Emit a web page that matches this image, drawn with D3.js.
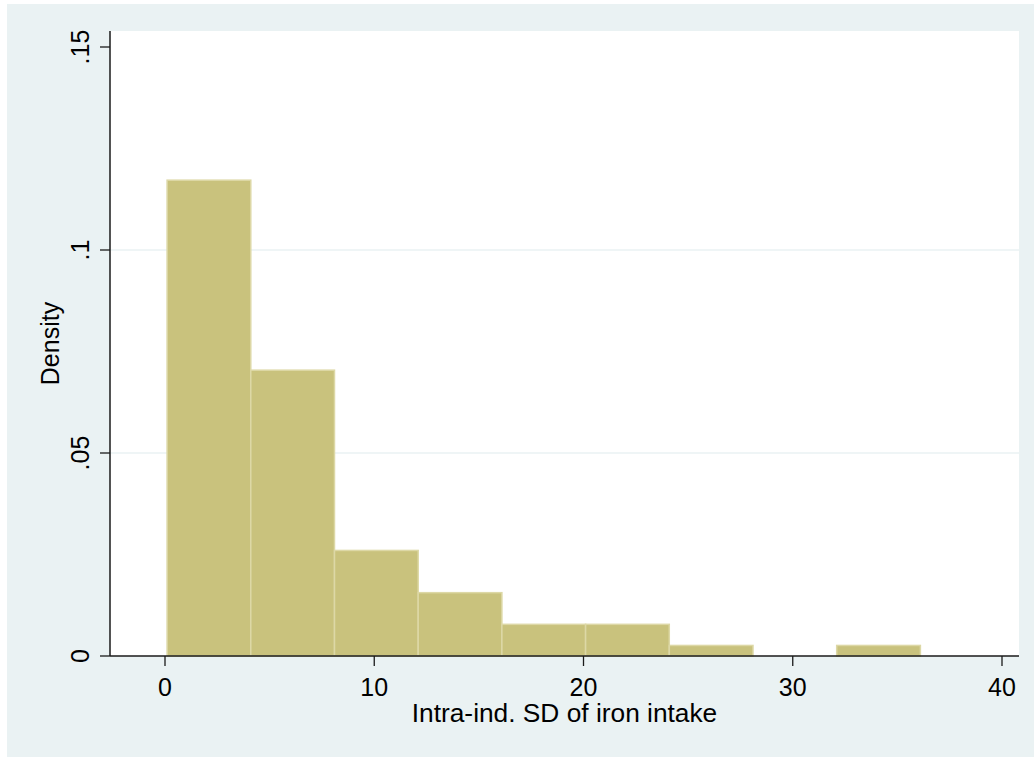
<!DOCTYPE html>
<html>
<head>
<meta charset="utf-8">
<script src="https://cdn.jsdelivr.net/npm/d3@7/dist/d3.min.js"></script>
<style>
  html, body { margin: 0; padding: 0; background: #ffffff; }
  svg { display: block; font-family: "Liberation Sans", Arial, Helvetica, sans-serif; }
</style>
</head>
<body>
<svg id="chart" width="1034" height="757"></svg>
<script>
// Histogram of intra-individual SD of iron intake (bin width 4, starting at 0.1)
const binStarts = [0.1, 4.1, 8.1, 12.1, 16.1, 20.1, 24.1, 28.1, 32.1];
const binWidth = 4;
const densities = [0.1172, 0.0704, 0.0260, 0.0156, 0.0078, 0.0078, 0.0026, 0, 0.0026];
const xTicks = [0, 10, 20, 30, 40];
const yTicks = [0, 0.05, 0.1, 0.15];
const yTickLabels = ["0", ".05", ".1", ".15"];
const yGridTicks = [0.05, 0.1];
const xTitle = "Intra-ind. SD of iron intake";
const yTitle = "Density";

const svg = d3.select("#chart");
const W = 1034, H = 757;
const plot = { left: 110, right: 1019, top: 31, bottom: 656 };

const x = d3.scaleLinear().domain([0, 40]).range([165, 1002]);
const y = d3.scaleLinear().domain([0, 0.15]).range([656, 47]);

// outer graph region
svg.append("rect").attr("x", 7).attr("y", 4).attr("width", W - 7).attr("height", H - 4)
  .attr("fill", "#EAF2F3");

// plot region
svg.append("rect").attr("x", plot.left).attr("y", plot.top)
  .attr("width", plot.right - plot.left).attr("height", plot.bottom - plot.top)
  .attr("fill", "#ffffff");

// horizontal grid lines
svg.append("g").selectAll("line").data(yGridTicks).join("line")
  .attr("x1", plot.left).attr("x2", plot.right)
  .attr("y1", d => y(d)).attr("y2", d => y(d))
  .attr("stroke", "#EAF2F3").attr("stroke-width", 1.5);

// bars
const bins = binStarts.map((s, i) => ({ x0: s, x1: s + binWidth, d: densities[i] }));
svg.append("g").selectAll("rect").data(bins.filter(b => b.d > 0)).join("rect")
  .attr("x", b => x(b.x0))
  .attr("y", b => y(b.d))
  .attr("width", b => x(b.x1) - x(b.x0))
  .attr("height", b => y(0) - y(b.d))
  .attr("fill", "#C9C27D")
  .attr("stroke", "#DDD8A6")
  .attr("stroke-width", 1.5);

// y axis
const yAxis = svg.append("g").attr("transform", `translate(${plot.left},0)`);
yAxis.append("line").attr("x1", 0).attr("x2", 0).attr("y1", plot.top).attr("y2", plot.bottom)
  .attr("stroke", "#1a1a1a").attr("stroke-width", 1.5);
yAxis.selectAll("line.tick").data(yTicks).join("line").attr("class", "tick")
  .attr("x1", -10).attr("x2", 0).attr("y1", d => y(d)).attr("y2", d => y(d))
  .attr("stroke", "#1a1a1a").attr("stroke-width", 1.3);
yAxis.selectAll("text").data(yTicks).join("text")
  .attr("transform", d => `translate(-21,${y(d)}) rotate(-90)`)
  .attr("text-anchor", "middle")
  .attr("font-size", 25)
  .attr("fill", "#000")
  .text((d, i) => yTickLabels[i]);

// x axis
const xAxis = svg.append("g").attr("transform", `translate(0,${plot.bottom})`);
xAxis.append("line").attr("x1", plot.left).attr("x2", plot.right).attr("y1", 0).attr("y2", 0)
  .attr("stroke", "#1a1a1a").attr("stroke-width", 1.5);
xAxis.selectAll("line.tick").data(xTicks).join("line").attr("class", "tick")
  .attr("x1", d => x(d)).attr("x2", d => x(d)).attr("y1", 0).attr("y2", 10)
  .attr("stroke", "#1a1a1a").attr("stroke-width", 1.3);
xAxis.selectAll("text").data(xTicks).join("text")
  .attr("x", d => x(d)).attr("y", 39.5)
  .attr("text-anchor", "middle")
  .attr("font-size", 25)
  .attr("fill", "#000")
  .text(d => d);

// axis titles
svg.append("text")
  .attr("x", (plot.left + plot.right) / 2).attr("y", 722)
  .attr("text-anchor", "middle").attr("font-size", 26.3).attr("fill", "#000")
  .text(xTitle);
svg.append("text")
  .attr("transform", `translate(58.5,${(plot.top + plot.bottom) / 2}) rotate(-90)`)
  .attr("text-anchor", "middle").attr("font-size", 25).attr("fill", "#000")
  .text(yTitle);
</script>
</body>
</html>
